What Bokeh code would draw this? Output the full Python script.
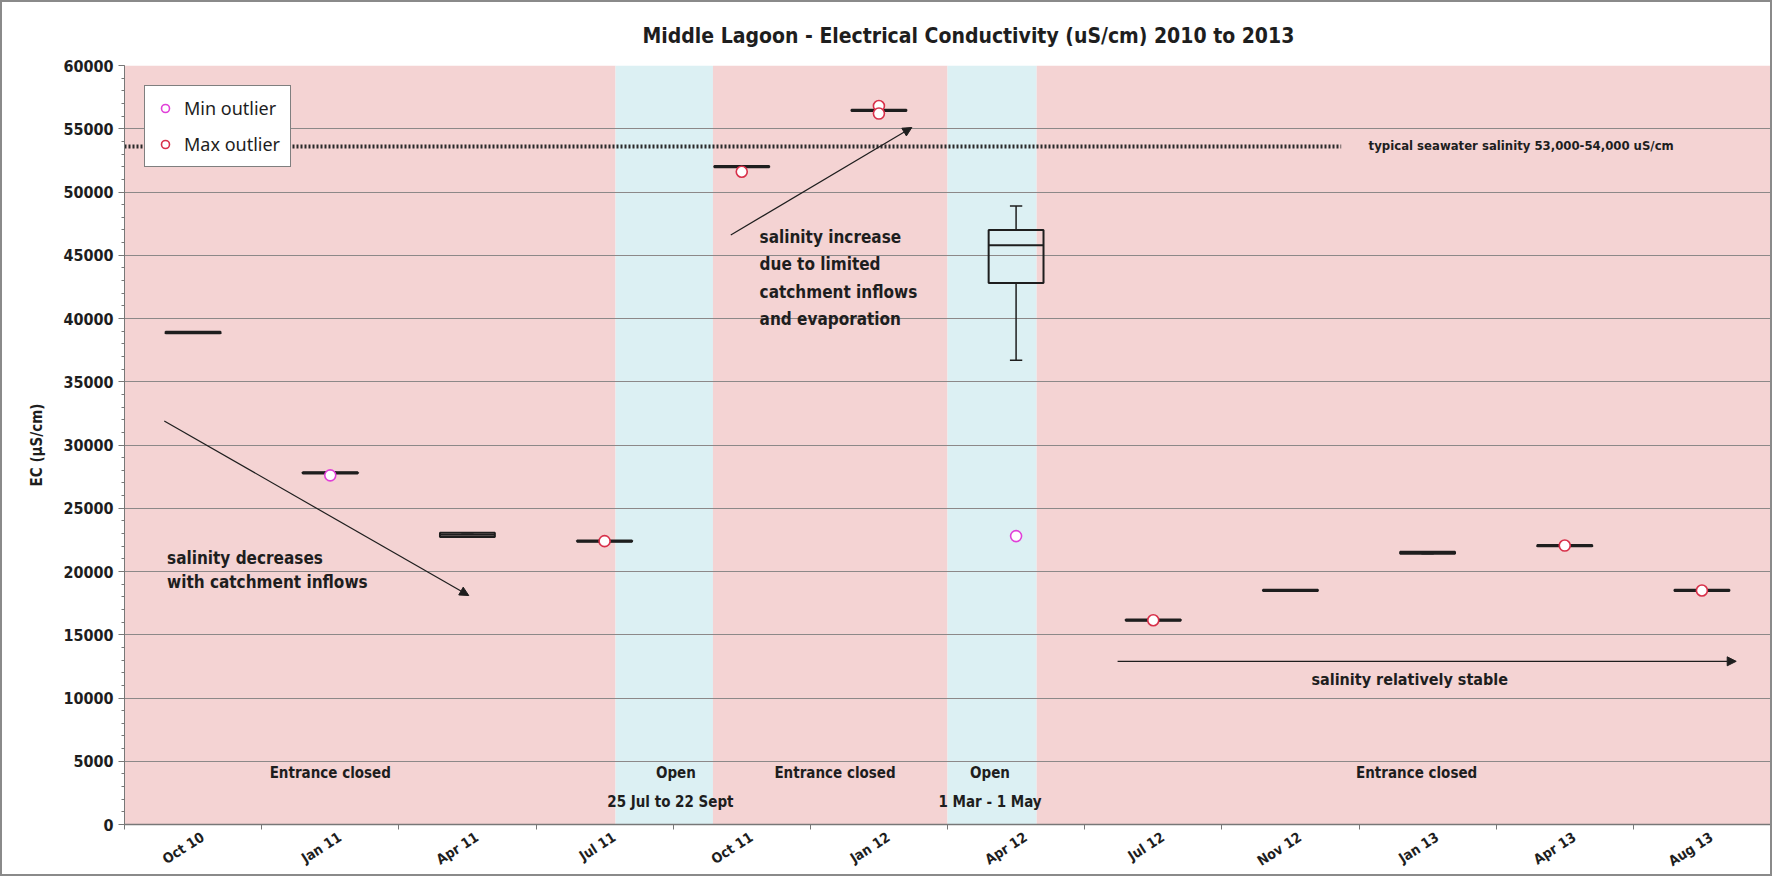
import math
from bokeh.plotting import figure
from bokeh.models import (Range1d, FixedTicker, SingleIntervalTicker, Arrow, NormalHead,
                          Legend, LegendItem, ColumnDataSource)
from bokeh.core.properties import value
from bokeh.embed import file_html
from bokeh.resources import INLINE

# ---------------- data ----------------
categories = ["Oct 10", "Jan 11", "Apr 11", "Jul 11", "Oct 11", "Jan 12",
              "Apr 12", "Jul 12", "Nov 12", "Jan 13", "Apr 13", "Aug 13"]
whisker_low = [38830, 27750, 22720, 22350, 51950, 56400, 36700, 16100, 18450, 21400, 22000, 18450]
q1          = [38830, 27750, 22720, 22350, 51950, 56400, 42800, 16100, 18450, 21400, 22000, 18450]
median      = [38900, 27800, 22900, 22400, 52000, 56450, 45800, 16150, 18500, 21500, 22050, 18500]
q3          = [38950, 27850, 23060, 22450, 52050, 56500, 47000, 16200, 18550, 21560, 22100, 18550]
whisker_high= [38950, 27850, 23060, 22450, 52050, 56500, 48900, 16200, 18550, 21560, 22100, 18550]

min_out_cat = ["Jan 11", "Apr 12"]
min_out_val = [27600, 22800]
max_out_cat = ["Jul 11", "Oct 11", "Jan 12", "Jan 12", "Jul 12", "Apr 13", "Aug 13"]
max_out_val = [22400, 51600, 56800, 56200, 16150, 22050, 18500]

# entrance state periods (in category units along the axis)
period_start = [0, 3.58, 4.29, 6.0, 6.65]
period_end   = [3.58, 4.29, 6.0, 6.65, 12]
period_state = ["closed", "open", "closed", "open", "closed"]

seawater_ec = 53600

# ---------------- styling ----------------
FONT = "DejaVu Sans Condensed"
PINK = "#f4d3d3"
BLUE = "#dcf0f3"
INK = "#1e1e1e"

ncat = len(categories)
pos = {c: i + 0.5 for i, c in enumerate(categories)}
xc = [pos[c] for c in categories]
label_ticks = [x + 0.07 for x in xc]

p = figure(width=1772, height=876, output_backend="svg", toolbar_location=None,
           x_range=Range1d(0, ncat), y_range=Range1d(0, 60000),
           min_border_left=122, min_border_right=4, min_border_top=63, min_border_bottom=54,
           background_fill_color="white", border_fill_color="white")
p.styles = {"border": "2px solid #8a8a8a"}
p.outline_line_color = None

p.title.text = "Middle Lagoon - Electrical Conductivity (uS/cm) 2010 to 2013"
p.title.align = "left"
p.title.offset = 518
p.title.text_font = FONT
p.title.text_font_size = "21px"
p.title.text_font_style = "bold"
p.title.text_color = INK
p.title.standoff = 35

# background periods
band_src = ColumnDataSource(dict(left=period_start, right=period_end,
                                 bottom=[0] * len(period_start), top=[60000] * len(period_start),
                                 color=[BLUE if s == "open" else PINK for s in period_state]))
p.quad(left="left", right="right", bottom="bottom", top="top", color="color",
       source=band_src, level="image", line_color=None)

# grid
p.xgrid.visible = False
p.ygrid.grid_line_color = "#8c8888"
p.ygrid.grid_line_width = 1
p.ygrid.ticker = SingleIntervalTicker(interval=5000)

# axes
p.yaxis.ticker = SingleIntervalTicker(interval=5000, num_minor_ticks=5)
p.yaxis.axis_label = "EC (µS/cm)"
p.yaxis.axis_label_text_font = FONT
p.yaxis.axis_label_text_font_style = "bold"
p.yaxis.axis_label_text_font_size = "15px"
p.yaxis.axis_label_text_color = INK
p.yaxis.axis_label_standoff = 14
p.yaxis.major_label_text_font = FONT
p.yaxis.major_label_text_font_style = "bold"
p.yaxis.major_label_text_font_size = "16px"
p.yaxis.major_label_text_color = INK
p.yaxis.major_tick_out = 6
p.yaxis.major_tick_in = 0
p.yaxis.minor_tick_out = 3
p.yaxis.minor_tick_in = 0
p.yaxis.axis_line_color = "#777777"
p.yaxis.major_tick_line_color = "#777777"
p.yaxis.minor_tick_line_color = "#777777"

p.xaxis.ticker = FixedTicker(ticks=label_ticks, minor_ticks=list(range(ncat + 1)))
p.xaxis.major_label_overrides = {t: c for t, c in zip(label_ticks, categories)}
p.xaxis.major_label_orientation = math.pi / 5.5
p.xaxis.major_label_text_font = FONT
p.xaxis.major_label_text_font_style = "bold"
p.xaxis.major_label_text_font_size = "14px"
p.xaxis.major_label_text_color = INK
p.xaxis.major_tick_out = 0
p.xaxis.major_tick_in = 0
p.xaxis.minor_tick_out = 5
p.xaxis.minor_tick_in = 0
p.xaxis.axis_line_color = "#777777"
p.xaxis.axis_line_width = 1.5
p.xaxis.minor_tick_line_color = "#777777"
p.xaxis.major_label_standoff = 6

# seawater reference line
p.line(x=[0, 8.87], y=[seawater_ec, seawater_ec], line_color="#2a2a2a",
       line_width=4, line_dash="2 2")

# box plots
hw = 0.2
box_src = ColumnDataSource(dict(x=xc, left=[x - hw for x in xc], right=[x + hw for x in xc],
                                q1=q1, q3=q3, med=median, lo=whisker_low, hi=whisker_high,
                                cl=[x - 0.045 for x in xc], cr=[x + 0.045 for x in xc]))
p.segment(x0="x", y0="q3", x1="x", y1="hi", source=box_src, line_color=INK, line_width=1.5)
p.segment(x0="x", y0="lo", x1="x", y1="q1", source=box_src, line_color=INK, line_width=1.5)
p.segment(x0="cl", y0="hi", x1="cr", y1="hi", source=box_src, line_color=INK, line_width=1.5)
p.segment(x0="cl", y0="lo", x1="cr", y1="lo", source=box_src, line_color=INK, line_width=1.5)
p.quad(left="left", right="right", bottom="q1", top="q3", source=box_src,
       fill_alpha=0, line_color=INK, line_width=2)
p.segment(x0="left", y0="med", x1="right", y1="med", source=box_src, line_color=INK, line_width=2)

# outliers
r_min = p.scatter(x=[pos[c] for c in min_out_cat], y=min_out_val, marker="circle", size=11,
                  line_color="#e040d8", line_width=1.6, fill_color="white")
r_max = p.scatter(x=[pos[c] for c in max_out_cat], y=max_out_val, marker="circle", size=11,
                  line_color="#d8304a", line_width=1.6, fill_color="white")

legend = Legend(items=[LegendItem(label="Min outlier", renderers=[r_min]),
                       LegendItem(label="Max outlier", renderers=[r_max])],
                location="top_left", margin=20, padding=10, spacing=12,
                glyph_width=20, glyph_height=20, label_standoff=9,
                label_text_font="Noto Sans", label_text_font_size="18px", label_text_color=INK,
                border_line_color="black", border_line_width=1.5,
                background_fill_color="white", background_fill_alpha=1)
p.add_layout(legend)

# arrows
head = dict(size=9, fill_color=INK, line_color=INK, line_width=1)
p.add_layout(Arrow(x_start=0.29, y_start=31900, x_end=2.51, y_end=18100,
                   end=NormalHead(**head), line_color=INK, line_width=1.2))
p.add_layout(Arrow(x_start=4.42, y_start=46600, x_end=5.74, y_end=55100,
                   end=NormalHead(**head), line_color=INK, line_width=1.2))
p.add_layout(Arrow(x_start=7.24, y_start=12900, x_end=11.75, y_end=12900,
                   end=NormalHead(**head), line_color=INK, line_width=1.2))

# annotation texts
def add_text(xs, ys, texts, align="left", size="15px"):
    p.text(x=xs, y=ys, text=texts, text_font=value(FONT), text_font_style="bold",
           text_font_size=size, text_color=INK, text_align=align, text_baseline="middle")

add_text([0.31, 0.31], [21100, 19200], ["salinity decreases", "with catchment inflows"], size="17px")
add_text([4.63] * 4, [46450, 44270, 42100, 39930],
         ["salinity increase", "due to limited", "catchment inflows", "and evaporation"], size="17px")
add_text([9.37], [11500], ["salinity relatively stable"], align="center", size="16px")
add_text([9.07], [53700], ["typical seawater salinity 53,000-54,000 uS/cm"], size="13px")
add_text([1.5, 5.18, 9.42], [4060, 4060, 4060],
         ["Entrance closed", "Entrance closed", "Entrance closed"], align="center")
add_text([4.02, 6.31], [4060, 4060], ["Open", "Open"], align="center")
add_text([3.98, 6.31], [1800, 1800], ["25 Jul to 22 Sept", "1 Mar - 1 May"], align="center")

open("out.html", "w").write(file_html(p, INLINE))
